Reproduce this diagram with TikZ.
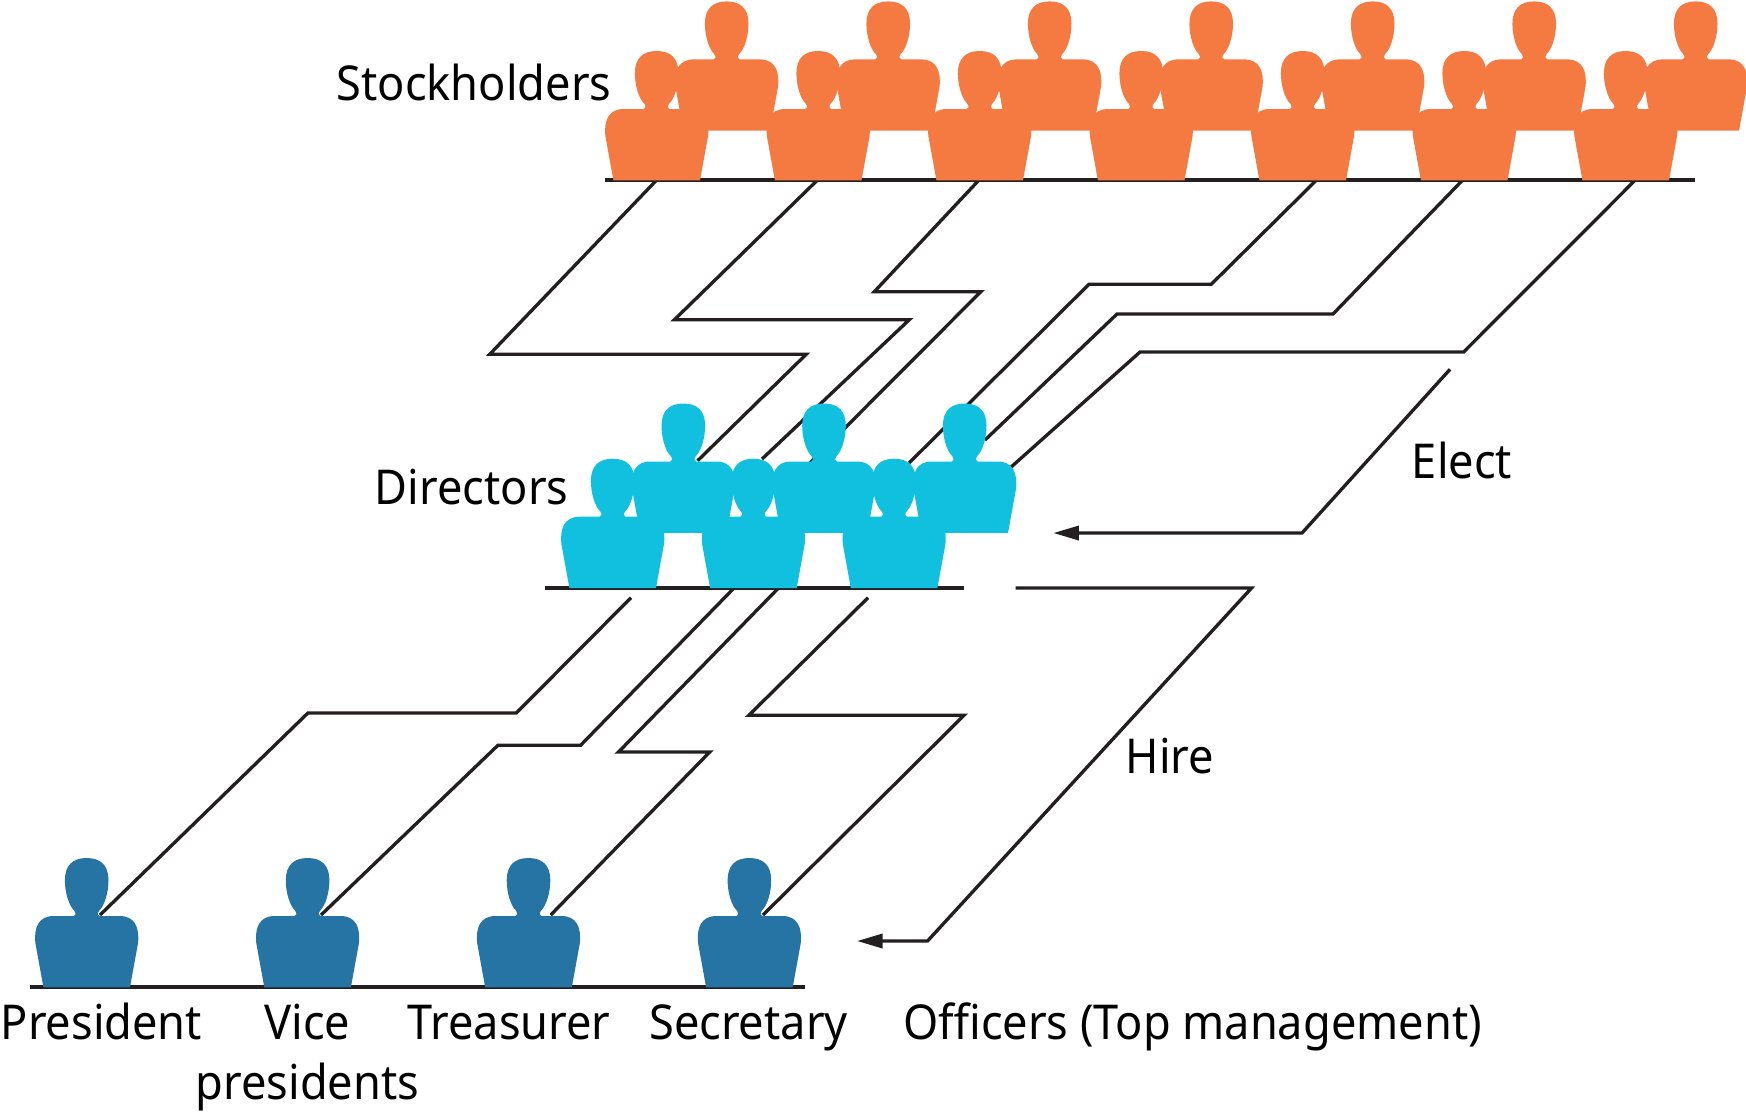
\documentclass[tikz,border=0pt]{standalone}
\usepackage{fontspec}
\setmainfont[FakeStretch=0.94]{Noto Sans}
\usetikzlibrary{arrows.meta}
\definecolor{stockorange}{HTML}{F47A42}
\definecolor{directorcyan}{HTML}{10C0DE}
\definecolor{officerblue}{HTML}{2574A3}
\definecolor{linkgray}{HTML}{231F20}
\tikzstyle{link} = [draw=linkgray,line width=0.95pt,line join=miter]
\tikzstyle{duty} = [link,-{Triangle[length=7.3pt,width=4pt]}]
\tikzstyle{lbl} = [anchor=base,inner sep=0pt,text=black,font=\fontsize{13.66}{17.07}\selectfont,align=center]
\tikzset{person/.pic={
    \path[pic actions] (-43.3,0) -- (-51.3,-44) .. controls (-53,-60) and (-48,-71.3) .. (-33,-71.3)
        -- (-13,-71.3) .. controls (-11,-71.3) and (-10.5,-74) .. (-12.5,-76.7)
        .. controls (-18,-82) and (-21.8,-95) .. (-21.8,-107) .. controls (-21.8,-122) and (-14,-129.3) .. (0,-129.3)
        .. controls (14,-129.3) and (21.8,-122) .. (21.8,-107) .. controls (21.8,-95) and (18,-82) .. (12.5,-76.7)
        .. controls (10.5,-74) and (11,-71.3) .. (13,-71.3) -- (33,-71.3)
        .. controls (48,-71.3) and (53,-60) .. (51.3,-44) -- (43.3,0) -- cycle;
}}
\begin{document}
\begin{tikzpicture}[x=0.01cm,y=-0.01cm]
    \useasboundingbox (0,0) rectangle (1746,1114);

    % rows the people stand on
    \foreach \name/\x/\y in {sl/605/180, sr/1695/180, dl/544.5/588, dr/964/588, ol/30/987, or/805/987,
                             hs/1015.5/588, es/1450/369.3, ee/1053.3/533, he/857/941}
        \coordinate (\name) at (\x,\y);
    \draw[link] (sl) -- (sr);
    \draw[link] (dl) -- (dr);
    \draw[link] (ol) -- (or);

    % votes, stockholders to directors
    \foreach \name/\x/\y in {a/656.7/180, b/817.5/180, c/979/180, d/1316.6/180, e/1462.7/180, f/1635.3/180,
                             g/697.6/460.7, h/762/459, i/810/463, j/909/463, k/985/440, l/1010.8/467.3}
        \coordinate (\name) at (\x,\y);
    \draw[link] (a) -- (489.7,354.3) -- (806.2,354.3) -- (g);
    \draw[link] (b) -- (674.4,319.7) -- (909.3,319.7) -- (h);
    \draw[link] (c) -- (874.3,291.7) -- (980.8,291.7) -- (i);
    \draw[link] (d) -- (1211.2,284.3) -- (1088.9,284.3) -- (j);
    \draw[link] (e) -- (1333,314) -- (1117,314) -- (k);
    \draw[link] (f) -- (1463.6,352) -- (1140,352) -- (l);

    % appointments, directors to officers
    \foreach \name/\x/\y in {m/631/597.7, n/734/588, o/778.5/588, p/868/597.7,
                             q/100/915, r/321/915, s/550.7/915, t/763/915}
        \coordinate (\name) at (\x,\y);
    \draw[link] (m) -- (516.3,713) -- (307.9,713) -- (q);
    \draw[link] (n) -- (580.6,745.3) -- (497.9,745.3) -- (r);
    \draw[link] (o) -- (618.5,752) -- (709.7,752) -- (s);
    \draw[link] (p) -- (748.8,715.3) -- (964,715.3) -- (t);

    \draw[duty] (es) -- (1302,533) -- (ee);
    \draw[duty] (hs) -- (1251.5,588) -- (927.5,941) -- (he);

    % back row first, the front row stands over it
    \foreach \i in {0,...,6} {
        \pic[fill=stockorange] at ({726.7+161.5*\i},130.7) {person};
        \pic[fill=stockorange] at ({656.7+161.5*\i},180.3) {person};
    }
    \foreach \i in {0,1,2} {
        \pic[fill=directorcyan] at ({683.3+140.7*\i},532.8) {person};
        \pic[fill=directorcyan] at ({612.7+140.7*\i},588) {person};
    }
    \foreach \i in {0,...,3}
        \pic[fill=officerblue] at ({86.7+220.9*\i},987.3) {person};

    \node[lbl] (stockholders) at (474,100.5) {Stockholders};
    \node[lbl] (directors) at (471.6,504.5) {Directors};
    \node[lbl] (elect) at (1462,478.5) {Elect};
    \node[lbl] (hire) at (1170,773) {Hire};
    \node[lbl] (president) at (101.5,1039) {President};
    \node[lbl] (vice) at (307.5,1039) {Vice};
    \node[lbl] (vicep) at (307.5,1099) {presidents};
    \node[lbl] (treasurer) at (509,1039) {Treasurer};
    \node[lbl] (secretary) at (748.5,1039) {Secretary};
    \node[lbl] (officers) at (1192.5,1039) {Officers (Top management)};
\end{tikzpicture}
\end{document}
